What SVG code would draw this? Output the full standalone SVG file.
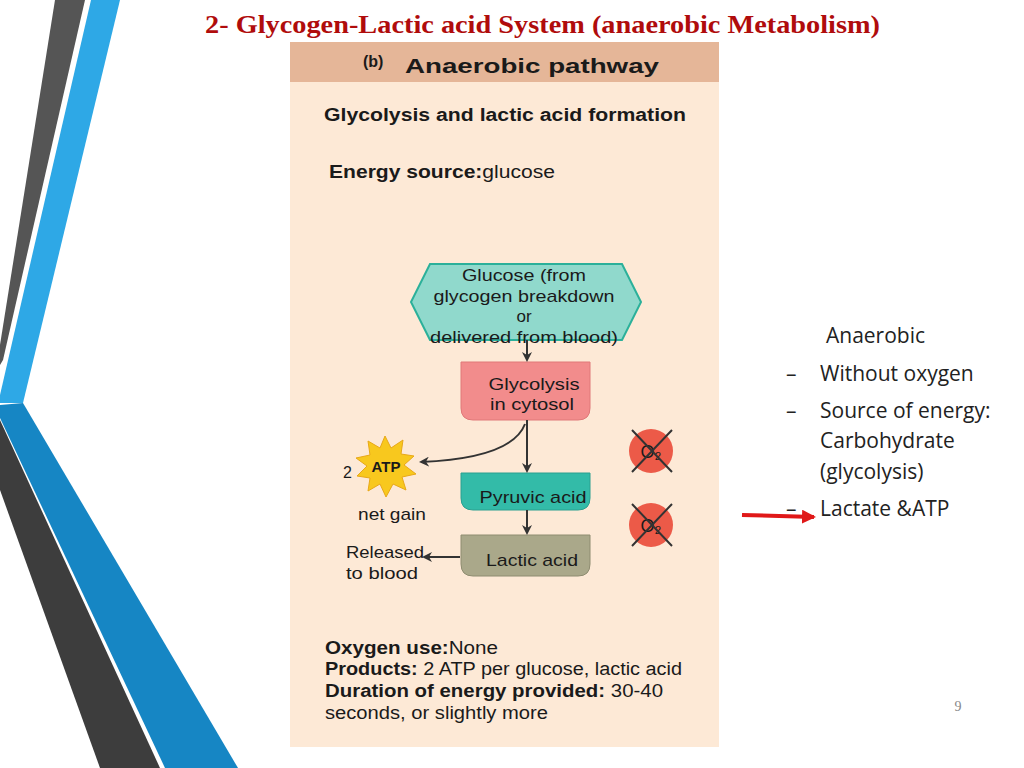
<svg xmlns="http://www.w3.org/2000/svg" width="1024" height="768" viewBox="0 0 1024 768">
<defs>
<marker id="ah" markerWidth="10" markerHeight="10" refX="8" refY="5" orient="auto" markerUnits="userSpaceOnUse"><path d="M0,0 L10,5 L0,10 L3,5 Z" fill="#333"/></marker>
<marker id="rh" markerWidth="14" markerHeight="14" refX="12" refY="7" orient="auto" markerUnits="userSpaceOnUse"><path d="M0,0 L14,7 L0,14 Z" fill="#e01818"/></marker>
</defs>
<style>
.s{font-family:"Liberation Sans",Arial,sans-serif;fill:#1a1a1a}
.b{font-weight:bold}
.c{font-family:"Open Sans","Liberation Sans",sans-serif;fill:#222;font-size:21px}
.e{stroke:#333;stroke-width:2;fill:none}
</style>
<rect width="1024" height="768" fill="#fff"/>
<polygon points="55,0 85,0 3,360 0,365 0,345" fill="#555"/>
<polygon points="91,0 120,0 23,403 0,403 0,395" fill="#2ea8e6"/>
<polygon points="0,405 23,403 238,768 165,768 0,418" fill="#1686c4"/>
<polygon points="0,420 160,768 100,768 0,490" fill="#3d3d3d"/>
<text x="205" y="33" textLength="675" lengthAdjust="spacingAndGlyphs" font-family="Liberation Serif,serif" font-weight="bold" font-size="26" fill="#b00c0c">2- Glycogen-Lactic acid System (anaerobic Metabolism)</text>
<rect x="290" y="42" width="429" height="705" fill="#fde9d6"/>
<rect x="290" y="42" width="429" height="40" fill="#e5b698"/>
<text x="363" y="67" class="s b" font-size="16">(b)</text>
<text x="405" y="73" class="s b" font-size="21" textLength="254" lengthAdjust="spacingAndGlyphs">Anaerobic pathway</text>
<text x="324" y="121" class="s b" font-size="18" textLength="362" lengthAdjust="spacingAndGlyphs">Glycolysis and lactic acid formation</text>
<text x="329" y="178" class="s" font-size="18" textLength="226" lengthAdjust="spacingAndGlyphs"><tspan class="b">Energy source:</tspan>glucose</text>
<g id="glucose"><polygon points="430,264 622,264 641,302 622,340 430,340 411,302" fill="#90d9cc" stroke="#2bb09a" stroke-width="2"/>
<text class="s" font-size="17" text-anchor="middle"><tspan x="524" y="281" textLength="124" lengthAdjust="spacingAndGlyphs">Glucose (from</tspan><tspan x="524" y="302" textLength="181" lengthAdjust="spacingAndGlyphs">glycogen breakdown</tspan><tspan x="524" y="322">or</tspan><tspan x="524" y="343" textLength="188" lengthAdjust="spacingAndGlyphs">delivered from blood)</tspan></text></g>
<g id="glycolysis"><path d="M461,362 H590 V408 Q590,420 578,420 H473 Q461,420 461,408 Z" fill="#f28c8c" stroke="#e07878"/>
<text class="s" font-size="17" text-anchor="middle"><tspan x="534" y="390" textLength="91" lengthAdjust="spacingAndGlyphs">Glycolysis</tspan><tspan x="532" y="410" textLength="84" lengthAdjust="spacingAndGlyphs">in cytosol</tspan></text></g>
<g id="pyruvic"><path d="M461,473 H590 V498 Q590,510 578,510 H473 Q461,510 461,498 Z" fill="#33bba8" stroke="#2aa090"/>
<text x="533" y="503" class="s" font-size="17" text-anchor="middle" textLength="107" lengthAdjust="spacingAndGlyphs">Pyruvic acid</text></g>
<g id="lactic"><path d="M461,535 H590 V564 Q590,576 578,576 H473 Q461,576 461,564 Z" fill="#aaa88a" stroke="#8e8c70"/>
<text x="532" y="566" class="s" font-size="17" text-anchor="middle" textLength="92" lengthAdjust="spacingAndGlyphs">Lactic acid</text></g>
<g id="atp"><polygon points="385,436 391,448 403,440 401,454 414,456 404,465 416,474 402,477 406,490 393,484 386,497 380,484 368,491 370,478 357,476 367,466 356,458 370,455 368,441 380,448" fill="#f8c81e" stroke="#e8a818"/>
<text x="386" y="472" class="s b" font-size="15" text-anchor="middle">ATP</text>
<text x="343" y="478" class="s" font-size="16">2</text>
<text x="358" y="520" class="s" font-size="17" textLength="68" lengthAdjust="spacingAndGlyphs">net gain</text></g>
<text class="s" font-size="17"><tspan x="346" y="558" textLength="78" lengthAdjust="spacingAndGlyphs">Released</tspan><tspan x="346" y="579" textLength="72" lengthAdjust="spacingAndGlyphs">to blood</tspan></text>
<g id="o2a"><circle cx="651" cy="451" r="22" fill="#ec5a48"/><text x="651" y="458" text-anchor="middle" class="s" font-size="18" fill="#555">O₂</text><path d="M632,430 L672,472 M672,430 L632,472" stroke="#333" stroke-width="2"/></g>
<g id="o2b"><circle cx="651" cy="525" r="22" fill="#ec5a48"/><text x="651" y="532" text-anchor="middle" class="s" font-size="18" fill="#555">O₂</text><path d="M632,504 L672,546 M672,504 L632,546" stroke="#333" stroke-width="2"/></g>
<g id="connectors">
<line x1="527" y1="340" x2="527" y2="360" class="e" marker-end="url(#ah)"/>
<line x1="527" y1="420" x2="527" y2="471" class="e" marker-end="url(#ah)"/>
<path d="M525,424 Q512,458 421,462" class="e" marker-end="url(#ah)"/>
<line x1="527" y1="510" x2="527" y2="533" class="e" marker-end="url(#ah)"/>
<line x1="460" y1="557" x2="424" y2="557" class="e" marker-end="url(#ah)"/>
<line x1="742" y1="515" x2="814" y2="517" stroke="#e01818" stroke-width="4" marker-end="url(#rh)"/>
</g>
<text class="s" font-size="18"><tspan x="325" y="654" textLength="173" lengthAdjust="spacingAndGlyphs"><tspan class="b">Oxygen use:</tspan>None</tspan><tspan x="325" y="675" textLength="357" lengthAdjust="spacingAndGlyphs"><tspan class="b">Products:</tspan> 2 ATP per glucose, lactic acid</tspan><tspan x="325" y="697" textLength="338" lengthAdjust="spacingAndGlyphs"><tspan class="b">Duration of energy provided:</tspan> 30-40</tspan><tspan x="325" y="719" textLength="223" lengthAdjust="spacingAndGlyphs">seconds, or slightly more</tspan></text>
<text class="c"><tspan x="826" y="343">Anaerobic</tspan><tspan x="786" y="381">–</tspan><tspan x="820" y="381">Without oxygen</tspan><tspan x="786" y="418">–</tspan><tspan x="820" y="418">Source of energy:</tspan><tspan x="820" y="448">Carbohydrate</tspan><tspan x="820" y="479">(glycolysis)</tspan><tspan x="786" y="516">–</tspan><tspan x="820" y="516">Lactate &amp;ATP</tspan></text>
<text x="958" y="711" text-anchor="middle" font-family="Liberation Serif,serif" font-size="14" fill="#888">9</text>
</svg>
